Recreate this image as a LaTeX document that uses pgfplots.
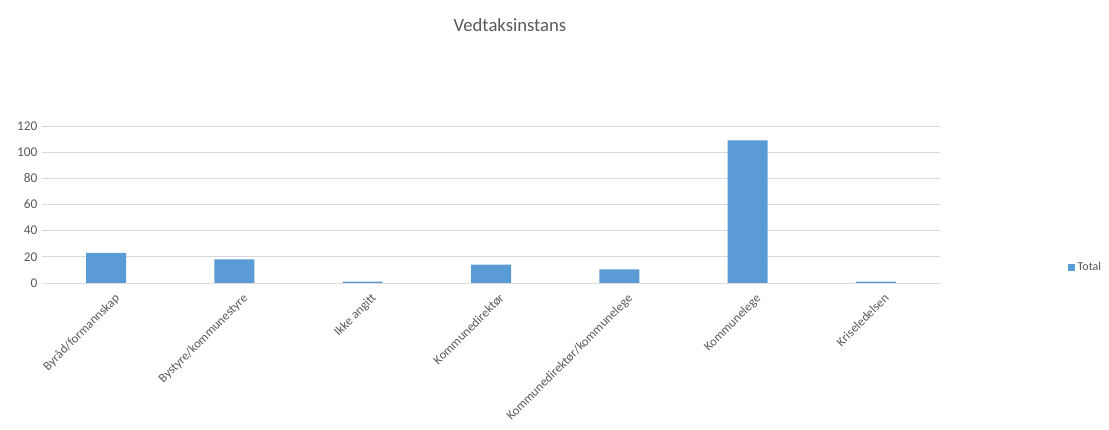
\documentclass[border=0pt]{standalone}
\usepackage{pgfplots}
\pgfplotsset{compat=1.18}
\usepackage{fontspec}
\setmainfont{Carlito}
\definecolor{barblue}{HTML}{5B9BD5}
\definecolor{txtgray}{HTML}{595959}
\definecolor{gridgray}{HTML}{D9D9D9}
\begin{document}
\begin{tikzpicture}
\path[use as bounding box] (-31.5pt,-109.5pt) rectangle (800.25pt,212.25pt);
\begin{axis}[
  at={(0,0)}, anchor=south west,
  scale only axis,
  width=673.5pt, height=117.75pt,
  ymin=0, ymax=120, ytick={0,20,...,120},
  xmin=-0.5, xmax=6.5,
  xtick=data,
  xticklabels={Byråd/formannskap,Bystyre/kommunestyre,Ikke angitt,Kommunedirektør,Kommunedirektør/kommunelege,Kommunelege,Kriseledelsen},
  x tick label style={rotate=45, anchor=north east, font=\fontsize{9.5}{10}\selectfont, text=txtgray, inner sep=1pt, xshift=0pt, yshift=-8pt},
  y tick label style={font=\fontsize{10}{11}\selectfont, text=txtgray},
  /pgf/number format/assume math mode=true,
  major tick length=0pt,
  axis line style={draw=none},
  ymajorgrids, grid style={gridgray, line width=0.75pt},
  ybar, bar width=30pt,
  legend style={at={(1.1426,0.10)}, anchor=west, draw=none, font=\fontsize{9}{10}\selectfont, text=txtgray, inner sep=0pt},
  legend image code/.code={\fill[barblue] (0pt,-2.5pt) rectangle (5pt,2.5pt);},
  clip=false,
]
\addplot[fill=barblue, draw=none] coordinates {(0,23) (1,18) (2,1) (3,14) (4,10.5) (5,109) (6,1)};
\addlegendentry{Total}
\draw[gridgray!80!black!40, line width=0.75pt] (axis cs:-0.5,0) -- (axis cs:6.5,0);
\end{axis}
\node[text=txtgray, font=\fontsize{14}{16}\selectfont] at (351pt,193.5pt) {Vedtaksinstans};
\end{tikzpicture}
\end{document}
